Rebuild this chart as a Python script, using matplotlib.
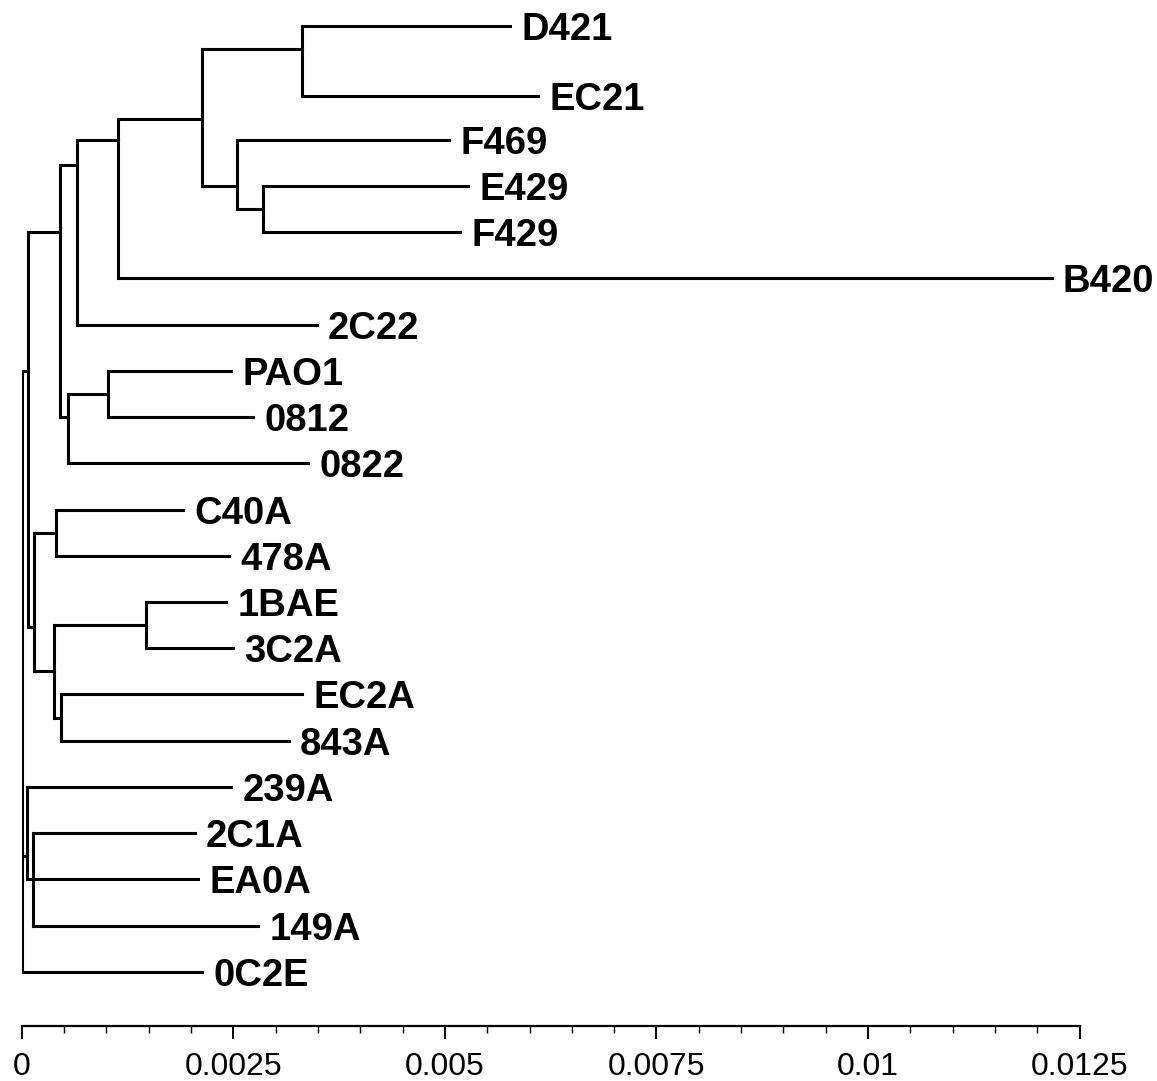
import matplotlib
matplotlib.use('Agg')
import matplotlib.pyplot as plt
from matplotlib.collections import LineCollection
from matplotlib.ticker import MultipleLocator

plt.rcParams['font.family'] = ['Liberation Sans', 'DejaVu Sans']

# Leaves: name, parent node, distance from root, row (top to bottom)
leaf_names = ['D421', 'EC21', 'F469', 'E429', 'F429', 'B420', '2C22', 'PAO1', '0812', '0822',
              'C40A', '478A', '1BAE', '3C2A', 'EC2A', '843A', '239A', '2C1A', 'EA0A', '149A', '0C2E']
leaf_parent = ['F', 'F', 'G', 'H', 'H', 'D', 'C', 'J', 'J', 'I',
               'L', 'L', 'N', 'N', 'O', 'O', 'P', 'Q', 'Q', 'Q', 'root']
leaf_dist = [0.005769, 0.0061, 0.005048, 0.005273, 0.005178, 0.01217, 0.003489, 0.002473, 0.002733, 0.003382,
             0.001906, 0.002449, 0.002414, 0.002496, 0.003312, 0.003158, 0.002473, 0.002047, 0.002083, 0.002792, 0.00213]
leaf_rows = [-0.45, 1.05, 2, 3, 4, 5, 6, 7, 8, 9,
             10, 11, 12, 13, 14, 15, 16, 17, 18, 19, 20]

# Internal nodes
node_names = ['root', 'A', 'B', 'C', 'D', 'E', 'F', 'G', 'H', 'I', 'J',
              'K', 'L', 'M', 'N', 'O', 'P', 'Q']
node_parent = [None, 'root', 'A', 'B', 'C', 'D', 'E', 'E', 'G', 'B', 'I',
               'A', 'K', 'K', 'M', 'M', 'root', 'P']
node_dist = [0.0, 0.000074, 0.000447, 0.000659, 0.001138, 0.00213, 0.003306, 0.002538, 0.002851, 0.000547, 0.00102,
             0.000145, 0.000405, 0.000382, 0.001469, 0.000464, 0.000063, 0.000134]
node_rows = [None, 7.0, 4.0, 2.55, 2.0, 1.55, 0.05, 3.0, 3.5, 8.0, 7.5,
             12.55, 10.5, 13.5, 12.5, 14.5, 17.5, 18.0]

tick_values = [0, 0.0025, 0.005, 0.0075, 0.01, 0.0125]
tick_labels = ['0', '0.0025', '0.005', '0.0075', '0.01', '0.0125']

dist = dict(zip(node_names, node_dist))
row = dict(zip(node_names, node_rows))

segments = []
child_rows = {n: [] for n in node_names}

# horizontal branches for internal nodes
for n, p in zip(node_names, node_parent):
    if p is None:
        continue
    segments.append([(dist[p], row[n]), (dist[n], row[n])])
    child_rows[p].append(row[n])

# horizontal branches for leaves
for d, r, p in zip(leaf_dist, leaf_rows, leaf_parent):
    segments.append([(dist[p], r), (d, r)])
    child_rows[p].append(r)

# vertical connectors
for n in node_names:
    rs = child_rows[n]
    segments.append([(dist[n], min(rs)), (dist[n], max(rs))])

fig = plt.figure(figsize=(11.57, 10.81), dpi=100)
ax = fig.add_axes([21.7 / 1157, 55 / 1081, 1058 / 1157, 1026 / 1081])

lc = LineCollection(segments, colors='black', linewidths=2.2, capstyle='projecting')
ax.add_collection(lc)

for name, d, r in zip(leaf_names, leaf_dist, leaf_rows):
    ax.annotate(name, (d, r), xytext=(8, 0), textcoords='offset points',
                fontsize=27.5, fontweight='bold', va='center_baseline', ha='left')

ax.set_xlim(0, 0.0125)
ax.set_ylim(21.17, -1.02)

for s in ['top', 'right', 'left']:
    ax.spines[s].set_visible(False)
ax.spines['bottom'].set_linewidth(1.6)
ax.set_yticks([])
ax.set_xticks(tick_values)
ax.set_xticklabels(tick_labels)
ax.xaxis.set_minor_locator(MultipleLocator(0.0005))
ax.tick_params(axis='x', which='major', direction='out', length=9, width=1.4, labelsize=23, pad=10)
ax.tick_params(axis='x', which='minor', direction='out', length=5, width=1.0)

fig.savefig('out.png', dpi=100)
